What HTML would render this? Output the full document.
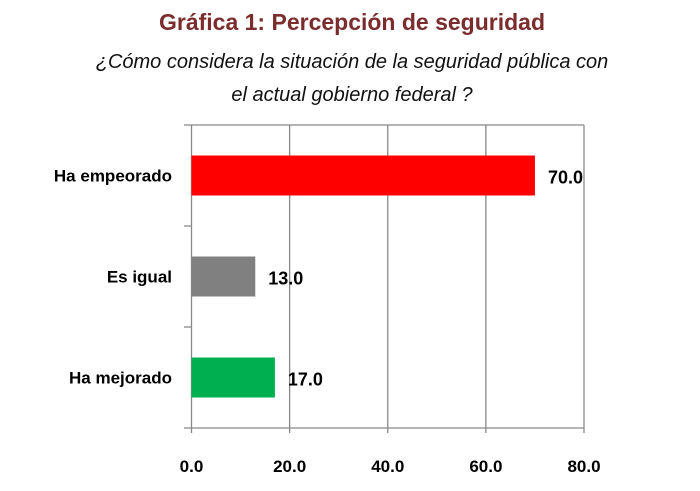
<!DOCTYPE html>
<html><head><meta charset="utf-8"><style>
body{margin:0;background:#fff;width:700px;height:486px;overflow:hidden;font-family:"Liberation Sans",sans-serif}
</style></head><body>
<svg width="700" height="486" xmlns="http://www.w3.org/2000/svg">
<text x="352" y="30" text-anchor="middle" font-size="23" font-weight="bold" fill="#7b2c2c">Gráfica 1: Percepción de seguridad</text>
<text x="352" y="68" text-anchor="middle" font-size="20" font-style="italic" fill="#111">¿Cómo considera la situación de la seguridad pública con</text>
<text x="352" y="101" text-anchor="middle" font-size="20" font-style="italic" fill="#111">el actual gobierno federal ?</text>
<g id="plot"></g>
</svg>
<script>
const categories=["Ha empeorado","Es igual","Ha mejorado"];
const values=[70.0,13.0,17.0];
const colors=["#ff0000","#808080","#00b050"];
const ticks=[0,20,40,60,80];
const tickLabels=["0.0","20.0","40.0","60.0","80.0"];
const NS="http://www.w3.org/2000/svg";
const plotG=document.getElementById("plot");
const x0=191.5,x1=584,y0=125,y1=428,xmax=80;
const xs=v=>x0+(v/xmax)*(x1-x0);
const band=(y1-y0)/categories.length;
function mk(t,a){const e=document.createElementNS(NS,t);for(const k in a)e.setAttribute(k,a[k]);plotG.appendChild(e);return e;}
ticks.forEach((t,i)=>{
 const l=mk("line",{x1:xs(t),x2:xs(t),y1:y0,y2:y1+5,stroke:"#888","stroke-width":1.3});
 
 
 const tx=mk("text",{x:xs(t),y:472,"text-anchor":"middle","font-size":17,"font-weight":"bold",fill:"#000"});
 tx.textContent=tickLabels[i];
 
 
});
const topBorder=mk("line",{x1:184,x2:x1,y1:y0,y2:y0,stroke:"#888","stroke-width":1.3});


const xAxisLine=mk("line",{x1:184,x2:x1,y1:y1,y2:y1,stroke:"#888","stroke-width":1.3});


for(let i=1;i<categories.length;i++){
 const tk=mk("line",{x1:184,x2:x0,y1:y0+band*i,y2:y0+band*i,stroke:"#888","stroke-width":1.3});
 
 
}
categories.forEach((c,i)=>{
 const cy=y0+band*i+band/2;
 const r=mk("rect",{x:x0,y:cy-20,width:xs(values[i])-x0,height:40,fill:colors[i]});
 
 
 const lb=mk("text",{x:172,y:cy+6,"text-anchor":"end","font-size":17,"font-weight":"bold",fill:"#000"});
 lb.textContent=c;
 
 
 const vl=mk("text",{x:xs(values[i])+13,y:cy+8,"font-size":18,"font-weight":"bold",fill:"#000"});
 vl.textContent=values[i].toFixed(1);
 
 
});
</script>
</body></html>
